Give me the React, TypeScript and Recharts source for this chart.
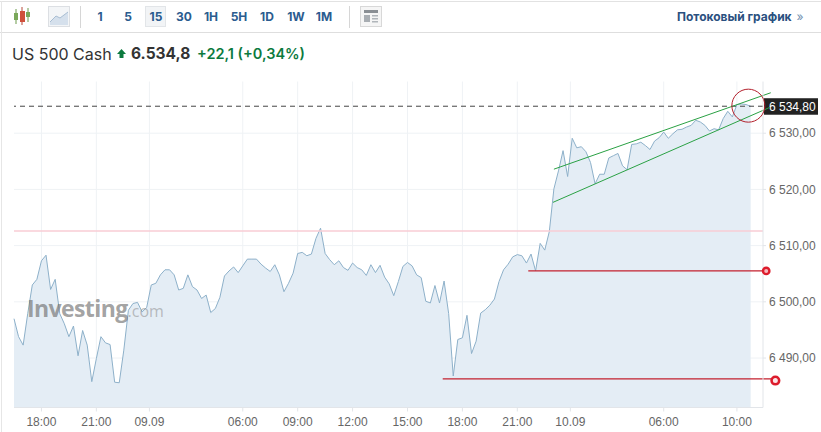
import React from 'react';
import { ComposedChart, Area, XAxis, YAxis, CartesianGrid, ReferenceLine, ReferenceDot } from 'recharts';

// one value per 15 min bar
const prices = [
  6497.0, 6493.8, 6492.3, 6497.9, 6503.0, 6504.0, 6507.3, 6508.3, 6502.2, 6504.0,
  6497.9, 6496.1, 6493.8, 6495.7, 6490.4, 6494.9, 6492.3, 6485.8, 6489.9, 6493.8,
  6492.7, 6492.4, 6485.7, 6485.6, 6491.4, 6498.5, 6499.7, 6499.9, 6498.2, 6499.0,
  6503.0, 6503.3, 6504.8, 6505.7, 6505.7, 6504.8, 6502.1, 6502.4, 6504.8, 6502.7,
  6502.1, 6500.6, 6501.2, 6498.1, 6498.8, 6500.8, 6504.6, 6505.5, 6506.2, 6505.2,
  6506.4, 6507.6, 6507.6, 6507.6, 6506.7, 6506.0, 6505.4, 6506.6, 6504.8,
  6501.8, 6503.3, 6505.1, 6508.6, 6508.8, 6508.2, 6508.5, 6511.3, 6513.1, 6508.6,
  6507.5, 6506.6, 6507.3, 6506.1, 6505.6, 6506.9, 6506.1, 6505.7, 6504.7, 6506.6,
  6505.2, 6506.5, 6504.4, 6503.2, 6501.1, 6503.6, 6506.3, 6507.0, 6506.4, 6504.8,
  6504.3, 6500.1, 6499.8, 6502.9, 6499.8, 6503.7, 6497.9, 6486.8, 6493.3, 6493.6,
  6497.6, 6490.8, 6493.0, 6498.0, 6498.6, 6499.4, 6500.5, 6503.6, 6505.7, 6506.7,
  6508.0, 6508.4, 6508.2, 6506.9, 6508.5, 6505.5, 6510.4, 6509.2, 6512.5,
  6520.1, 6523.3, 6526.9, 6522.3, 6529.1, 6527.4, 6527.6, 6526.7, 6524.8, 6521.0,
  6522.7, 6522.7, 6525.6, 6526.0, 6526.4, 6524.2, 6523.5, 6528.0, 6528.1, 6528.4,
  6527.8, 6527.1, 6528.6, 6529.2, 6530.2, 6529.1, 6529.9, 6530.6, 6530.7, 6531.1,
  6531.4, 6532.3, 6532.0, 6531.4, 6530.4, 6530.8, 6530.6, 6532.6, 6533.9, 6532.9,
  6535.1, 6535.2, 6535.1, 6534.8,
];

const xTicks = [6, 18, 29.6, 50, 62, 74, 86, 98, 110, 121.6, 142, 158];
const xLabels = ['18:00', '21:00', '09.09', '06:00', '09:00', '12:00', '15:00', '18:00', '21:00', '10.09', '06:00', '10:00'];
const yTicks = [6490, 6500, 6510, 6520, 6530];
const yLabels = ['6 490,00', '6 500,00', '6 510,00', '6 520,00', '6 530,00'];
const periods = ['1', '5', '15', '30', '1H', '5H', '1D', '1W', '1M'];
const periodCenters = [100, 128, 156, 184, 211, 239, 267, 296, 324];

const lastPrice = 6534.8;
const pinkLevel = 6512.6;
// drawn annotations, [bar, price] pairs
const channelUpper = [[118, 6523.6], [165.4, 6537.2]];
const channelLower = [[117.8, 6517.7], [165.2, 6534.6]];
const supportUpper = [[112.4, 6505.5], [164.4, 6505.5]];
const supportLower = [[93.7, 6486.3], [166.4, 6486.3]];
const supportUpperDot = [164.4, 6505.5];
const supportLowerDot = [166.4, 6486.0];
const circleAt = [160.5, 6534.9];

const chartData = prices.map((price, idx) => ({ idx, price }));

const BLUE = '#2b5c8f';
const RED = '#c3202e';
const GREEN = '#2aa144';

const FONT = '"Liberation Sans", Arial, sans-serif';
const HEAD_FONT = 'Inter, "Liberation Sans", sans-serif';

const PriceTag = ({ viewBox }: any) => {
  const y = viewBox.y;
  return (
    <g>
      <rect x={764} y={y - 8} width={54} height={16.5} fill="#222" />
      <text x={769} y={y + 4.5} fill="#fff" fontSize={12} fontFamily={FONT}>6 534,80</text>
    </g>
  );
};

const Toolbar = () => (
  <>
    <div style={{ position: 'absolute', left: 0, top: 1, width: 821, height: 1, background: '#e2e2e2' }} />
    <div style={{ position: 'absolute', left: 0, top: 32, width: 821, height: 1, background: '#dedede' }} />
    <div style={{ position: 'absolute', left: 1, top: 1, width: 1, height: 431, background: '#e6e6e6' }} />
    <svg width={30} height={22} style={{ position: 'absolute', left: 10, top: 5 }}>
      <line x1={6} y1={4} x2={6} y2={19} stroke="#6a9a4a" />
      <rect x={4} y={8} width={4} height={7} fill="#7aa85a" />
      <line x1={12} y1={2} x2={12} y2={20} stroke="#b84a3a" />
      <rect x={10} y={6} width={5} height={11} fill="#d0503c" />
      <line x1={18} y1={3} x2={18} y2={17} stroke="#6a9a4a" />
      <rect x={16} y={7} width={4} height={5} fill="#7aa85a" />
    </svg>
    <svg width={22} height={21} style={{ position: 'absolute', left: 48, top: 6 }}>
      <rect x={0.5} y={0.5} width={21} height={20} fill="#f3f5f7" stroke="#dcdfe3" />
      <path d="M2 16 L8 10 L12 12 L20 6 L20 19 L2 19 Z" fill="#d5e0ec" stroke="none" />
      <path d="M2 16 L8 10 L12 12 L20 6" fill="none" stroke="#a8bdd2" />
    </svg>
    <div style={{ position: 'absolute', left: 80, top: 6, width: 1, height: 22, background: '#d6d6d6' }} />
    <div style={{ position: 'absolute', left: 349, top: 6, width: 1, height: 22, background: '#d6d6d6' }} />
    <div style={{ position: 'absolute', left: 145, top: 6, width: 21, height: 21, background: '#f2f4f6', border: '1px solid #e2e5e8', boxSizing: 'border-box' }} />
    {periods.map((p, i) => (
      <div
        key={`period-${i}`}
        style={{
          position: 'absolute', left: periodCenters[i] - 15, top: 8, width: 30, textAlign: 'center',
          font: `bold 12px/18px ${HEAD_FONT}`, color: BLUE,
        }}
      >
        {p}
      </div>
    ))}
    <svg width={22} height={21} style={{ position: 'absolute', left: 360, top: 6 }}>
      <rect x={0.5} y={0.5} width={21} height={20} fill="#f5f5f5" stroke="#d8d8d8" />
      <rect x={4} y={4} width={14} height={3} fill="#8a8f94" />
      <rect x={4} y={9} width={6} height={7} fill="#a8adb2" />
      <rect x={12} y={9} width={6} height={1.5} fill="#b0b5ba" />
      <rect x={12} y={12} width={6} height={1.5} fill="#b0b5ba" />
      <rect x={12} y={15} width={6} height={1.5} fill="#b0b5ba" />
    </svg>
    <div style={{ position: 'absolute', left: 677, top: 8, font: `bold 12px/18px ${HEAD_FONT}`, color: '#2a5080', whiteSpace: 'nowrap' }}>
      Потоковый график <span style={{ color: '#6f8fb0', fontWeight: 400, marginLeft: 2 }}>»</span>
    </div>
    <div style={{ position: 'absolute', left: 12, top: 44, font: `16px/20px ${HEAD_FONT}`, color: '#333', whiteSpace: 'nowrap' }}>US 500 Cash</div>
    <svg width={10} height={10} style={{ position: 'absolute', left: 117, top: 49 }}>
      <path d="M4.5 0 L9 5 L6.5 5 L6.5 9 L2.5 9 L2.5 5 L0 5 Z" fill="#0c7a3e" />
    </svg>
    <div style={{ position: 'absolute', left: 131, top: 43, font: `bold 15.5px/22px ${HEAD_FONT}`, color: '#333', whiteSpace: 'nowrap' }}>6.534,8</div>
    <div style={{ position: 'absolute', left: 197, top: 44, font: `600 14.5px/20px ${HEAD_FONT}`, color: '#0c7a3e', whiteSpace: 'nowrap' }}>+22,1 (+0,34%)</div>
  </>
);

const Watermark = () => (
  <div style={{ position: 'absolute', left: 27, top: 291, whiteSpace: 'nowrap', color: 'rgba(110,110,110,0.65)', pointerEvents: 'none' }}>
    <span style={{ font: `bold 23px/34px "Open Sans", sans-serif`, letterSpacing: -0.6 }}>Investing</span>
    <span style={{ font: `16px/34px "Open Sans", sans-serif`, color: 'rgba(140,140,140,0.55)' }}>.com</span>
  </div>
);

const App = () => {
  return (
    <div style={{ position: 'absolute', left: 0, top: 0, width: 821, height: 432, overflow: 'hidden', background: '#fff' }}>
      <Toolbar />
      <div style={{ position: 'absolute', left: 0, top: 0 }}>
        <ComposedChart width={821} height={432} data={chartData} margin={{ top: 81.5, right: 0, bottom: 0, left: 14 }}>
          <CartesianGrid stroke="#eff2f5" horizontalValues={yTicks} verticalValues={xTicks} />
          <XAxis
            dataKey="idx"
            type="number"
            domain={[0, 163.7]}
            ticks={xTicks}
            tickFormatter={(v) => xLabels[xTicks.indexOf(v)]}
            height={24.5}
            interval={0}
            stroke="#e2e5e9"
            tickSize={4}
            tickMargin={6}
            tick={{ fill: '#666', fontSize: 12, fontFamily: FONT }}
          />
          <YAxis
            orientation="right"
            type="number"
            domain={[6481.2, 6539.2]}
            allowDataOverflow
            ticks={yTicks}
            tickFormatter={(v) => yLabels[yTicks.indexOf(v)]}
            width={58}
            interval={0}
            stroke="#e2e5e9"
            tickSize={3}
            tickMargin={3}
            tick={{ fill: '#666', fontSize: 12, fontFamily: FONT }}
          />
          <Area
            dataKey="price"
            type="linear"
            baseValue={6481.2}
            stroke="#8db0c9"
            strokeWidth={1}
            fill="#e4edf5"
            fillOpacity={1}
            dot={false}
            activeDot={false}
            isAnimationActive={false}
          />
          <ReferenceLine y={pinkLevel} stroke="#f9ccd4" strokeWidth={1.5} />
          <ReferenceLine y={lastPrice} stroke="#444" strokeDasharray="5 4" label={PriceTag} />
          <ReferenceLine segment={[{ x: channelUpper[0][0], y: channelUpper[0][1] }, { x: channelUpper[1][0], y: channelUpper[1][1] }]} stroke={GREEN} ifOverflow="visible" />
          <ReferenceLine segment={[{ x: channelLower[0][0], y: channelLower[0][1] }, { x: channelLower[1][0], y: channelLower[1][1] }]} stroke={GREEN} ifOverflow="visible" />
          <ReferenceLine segment={[{ x: supportUpper[0][0], y: supportUpper[0][1] }, { x: supportUpper[1][0], y: supportUpper[1][1] }]} stroke={RED} strokeWidth={1.2} ifOverflow="visible" />
          <ReferenceLine segment={[{ x: supportLower[0][0], y: supportLower[0][1] }, { x: supportLower[1][0], y: supportLower[1][1] }]} stroke={RED} strokeWidth={1.2} ifOverflow="visible" />
          <ReferenceDot x={supportUpperDot[0]} y={supportUpperDot[1]} r={3.2} fill="#f5b8be" stroke="#dd1c2c" strokeWidth={2.4} ifOverflow="visible" />
          <ReferenceDot x={supportLowerDot[0]} y={supportLowerDot[1]} r={3.8} fill="#fbe6e8" stroke="#dd1c2c" strokeWidth={2.6} ifOverflow="visible" />
          <ReferenceDot x={circleAt[0]} y={circleAt[1]} r={16.5} fill="none" stroke="#b3202c" strokeWidth={1} ifOverflow="visible" />
        </ComposedChart>
      </div>
      <Watermark />
    </div>
  );
};

export default App;
